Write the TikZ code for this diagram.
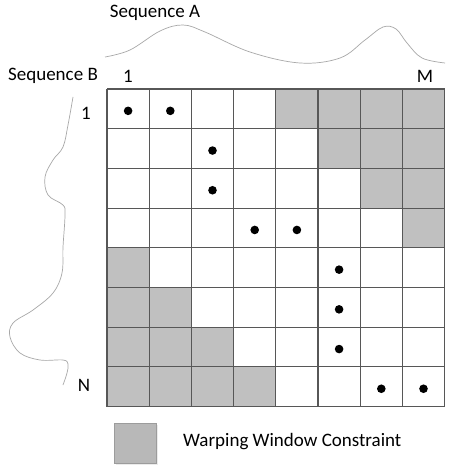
\documentclass[tikz,border=0pt]{standalone}
\usepackage{fontspec}
\setmainfont{Carlito}
\begin{document}
\begin{tikzpicture}[x=1pt,y=-1pt,
  cellbox/.style={draw=gridc,line width=1.1pt},
  winbox/.style={cellbox,fill=winc},
  dtdot/.style={fill=black,draw=none},
  seqcurve/.style={draw=curvec,line width=0.7pt},
  lbl/.style={font=\fontsize{19}{22}\selectfont,inner sep=0pt}]
\definecolor{gridc}{HTML}{575757}
\definecolor{winc}{HTML}{C0C0C0}
\definecolor{curvec}{HTML}{A8A8A8}
\definecolor{legc}{HTML}{B8B8B8}
\useasboundingbox (0,0) rectangle (453,468);
\fill[white] (0,0) rectangle (453,468);
\def\gx{107}\def\gy{89}\def\cw{42.2}\def\ch{39.7}
% window cells
\foreach \r/\c in {1/5,1/6,1/7,1/8,2/6,2/7,2/8,3/7,3/8,4/8,5/1,6/1,6/2,7/1,7/2,7/3,8/1,8/2,8/3,8/4}{
  \fill[winc] ({\gx+(\c-1)*\cw},{\gy+(\r-1)*\ch}) rectangle ({\gx+\c*\cw},{\gy+\r*\ch});
}
% grid lines
\foreach \i in {0,...,8}{
  \draw[gridc,line width=1.1pt] ({\gx+\i*\cw},\gy) -- ({\gx+\i*\cw},{\gy+8*\ch});
  \draw[gridc,line width=1.1pt] (\gx,{\gy+\i*\ch}) -- ({\gx+8*\cw},{\gy+\i*\ch});
}
% warping path dots
\foreach \r/\c in {1/1,1/2,2/3,3/3,4/4,4/5,5/6,6/6,7/6,8/7,8/8}{
  \fill[dtdot] ({\gx+(\c-0.5)*\cw},{\gy+(\r-0.5)*\ch+2}) circle (4.3);
}
% labels
\node[lbl] (seqA) at (155,13) {Sequence A};
\node[lbl] (seqB) at (53,76) {Sequence B};
\node[lbl] (one) at (128,76) {1};
\node[lbl] (M) at (425,76) {M};
\node[lbl] (oneB) at (86,113) {1};
\node[lbl] (N) at (84,385) {N};
% sequence curves
\draw[seqcurve] plot[smooth,tension=0.6] coordinates {(105,57) (130,50) (160,31) (183,25) (205,32) (250,52) (300,63) (340,58) (365,40) (383,27) (396,29) (407,43) (422,58) (445,63)};
\draw[seqcurve] plot[smooth,tension=0.6] coordinates {(73,97) (68,125) (63,147) (53,160) (45,177) (48,195) (63,205) (65,215) (63,247) (62,273) (53,293) (33,310) (13,323) (10,337) (20,353) (40,360) (63,360) (68,364) (67,373) (63,385)};
% legend
\fill[black!8] (116,425) rectangle (158,465);
\draw[legc!85!black,fill=legc,line width=0.6pt] (114,423) rectangle (156,463);
\node[lbl,anchor=west] (leg) at (183,442) {Warping Window Constraint};
\end{tikzpicture}
\end{document}
